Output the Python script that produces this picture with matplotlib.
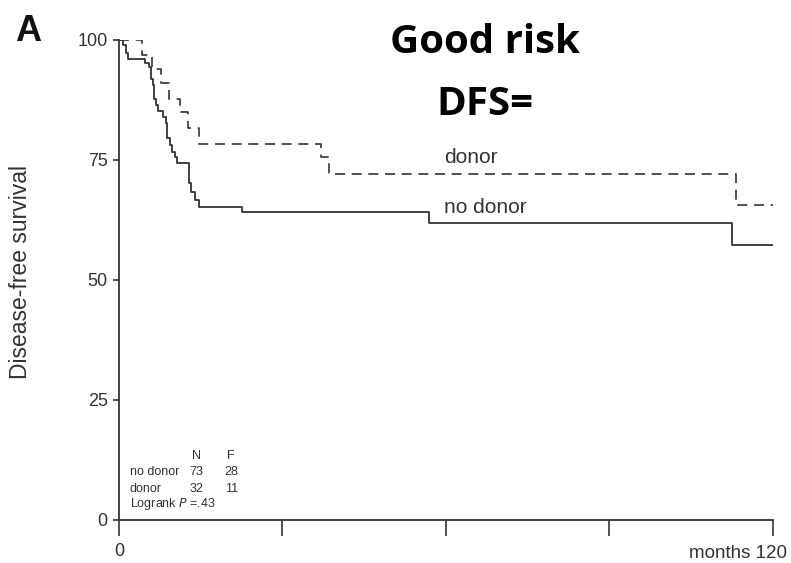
import matplotlib
matplotlib.use("Agg")
import matplotlib.pyplot as plt

# Kaplan-Meier step data (time in months, survival in %)
no_donor_t = [0, 0.8, 1.3, 1.7, 4.8, 5.6, 5.8, 6.3, 6.5, 6.8, 7.1, 8.1, 8.6, 8.9,
              9.4, 9.8, 10.3, 10.7, 12.9, 13.3, 13.9, 14.6, 22.5, 56.8, 112.4, 120]
no_donor_s = [100, 99.0, 97.2, 96.0, 95.1, 94.4, 91.8, 90.6, 87.8, 86.5, 85.3, 84.0, 82.6, 79.5,
              78.1, 76.7, 75.7, 74.3, 70.1, 68.4, 66.7, 65.3, 64.1, 61.8, 57.3, 57.3]

donor_t = [0, 4.2, 6.0, 7.8, 9.2, 11.2, 12.7, 14.7, 37.0, 38.6, 113.3, 120]
donor_s = [100, 96.9, 94.0, 91.0, 87.8, 84.9, 81.6, 78.3, 75.7, 72.0, 65.6, 65.6]

y_ticks = [0, 25, 50, 75, 100]
x_ticks = [0, 30, 60, 90, 120]

groups = ["no donor", "donor"]
n_patients = [73, 32]
n_failures = [28, 11]
logrank_p = ".43"

ink = "#333333"
plt.rcParams["font.family"] = ["Liberation Sans", "DejaVu Sans"]

fig = plt.figure(figsize=(7.91, 5.63), dpi=100)
ax = fig.add_axes([0.1504, 0.0764, 0.8268, 0.8526])

ax.step(no_donor_t, no_donor_s, where="post", color=ink, lw=1.3)
ax.step(donor_t, donor_s, where="post", color=ink, lw=1.2, linestyle=(0, (6, 4)))

ax.set_xlim(0, 120)
ax.set_ylim(0, 100)
for side in ("top", "right"):
    ax.spines[side].set_visible(False)
for side in ("left", "bottom"):
    ax.spines[side].set_color(ink)
    ax.spines[side].set_linewidth(1.3)

ax.set_yticks(y_ticks)
ax.set_yticklabels([str(v) for v in y_ticks], fontsize=13, color=ink)
ax.tick_params(axis="y", length=4.5, width=1.2, color=ink, pad=3.5)
ax.set_xticks(x_ticks)
ax.set_xticklabels(["0", "", "", "", ""], fontsize=13, color=ink)
ax.tick_params(axis="x", length=11.5, width=1.2, color=ink, pad=5)
ax.text(1.022, -0.0795, "months 120", transform=ax.transAxes, ha="right", va="baseline",
        fontsize=13.5, color=ink)

fig.text(21 / 791, 1 - 272 / 563, "Disease-free survival", rotation=90,
         ha="center", va="center", fontsize=16.5, color=ink)

# curve labels
ax.text(59.6, 74.3, "donor", fontsize=15, color=ink, ha="left", va="baseline")
ax.text(59.6, 63.9, "no donor", fontsize=15, color=ink, ha="left", va="baseline")

# summary table
fs = 9
x_n, x_f = 14.2, 20.6
ax.text(x_n, 12.8, "N", fontsize=fs, color=ink, ha="center", va="baseline")
ax.text(x_f, 12.8, "F", fontsize=fs, color=ink, ha="center", va="baseline")
rows_y = [9.4, 5.9]
for g, n, f, yy in zip(groups, n_patients, n_failures, rows_y):
    ax.text(2.0, yy, g, fontsize=fs, color=ink, va="baseline")
    ax.text(x_n, yy, str(n), fontsize=fs, color=ink, ha="center", va="baseline")
    ax.text(x_f, yy, str(f), fontsize=fs, color=ink, ha="center", va="baseline")
ax.text(2.0, 2.8, "Logrank $\\it{P}$ =" + logrank_p, fontsize=fs, color=ink, va="baseline")

# panel letter and title
fig.text(15 / 791, 1 - 41 / 563, "A", fontsize=26, fontweight="bold", color="#111111",
         va="baseline")
title_font = ["Open Sans", "DejaVu Sans"]
fig.text(485 / 791, 1 - 53 / 563, "Good risk", fontsize=29, fontweight="bold",
         color="black", ha="center", va="baseline", family=title_font)
fig.text(485 / 791, 1 - 115 / 563, "DFS=", fontsize=29, fontweight="bold",
         color="black", ha="center", va="baseline", family=title_font)

fig.savefig("out.png", dpi=100)
